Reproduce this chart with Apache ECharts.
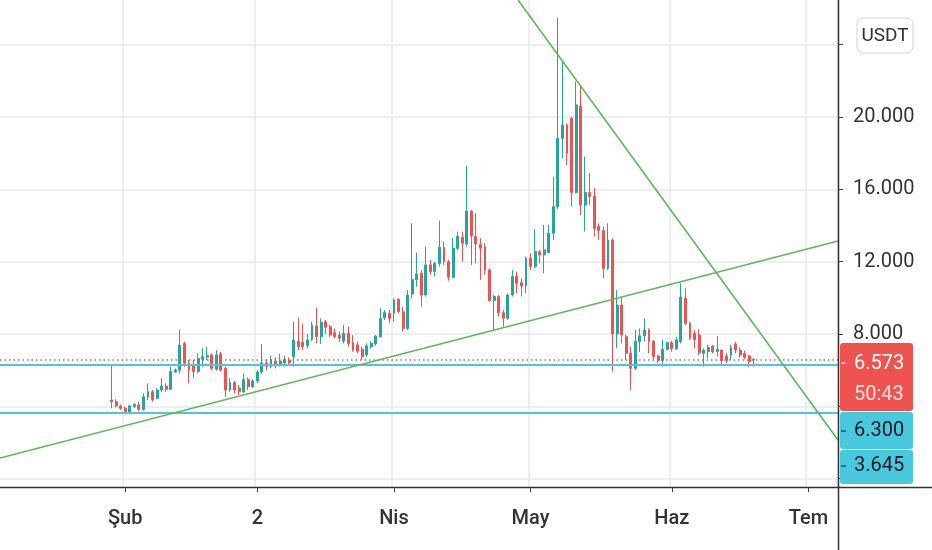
<!DOCTYPE html>
<html>
<head>
<meta charset="utf-8">
<script src="https://cdn.jsdelivr.net/npm/echarts@6/dist/echarts.min.js"></script>
<style>
html,body{margin:0;padding:0;background:#fff;}
#chart{width:932px;height:550px;}
</style>
</head>
<body>
<div id="chart"></div>
<script>
// ---- data ----
const startDate = [2021, 0, 5];      // first category day (2021-01-05)
const dayCount = 184;                // up to 2021-07-07
const firstCandleDay = 24;           // 2021-01-29
// daily candles: [open, close, low, high]
const ohlc = [
  [4.35,4.26,3.89,6.28],[4.26,4.02,3.95,4.40],[4.02,3.89,3.80,4.10],[3.89,3.65,3.57,3.98],
  [3.65,4.02,3.57,4.08],[4.00,4.10,3.90,4.15],[4.08,3.83,3.75,4.26],[3.83,4.53,3.75,4.72],
  [4.50,4.81,4.35,5.27],[4.81,4.35,4.26,4.90],[4.44,4.90,4.40,5.00],[4.90,5.12,4.81,5.55],
  [5.12,4.94,4.81,5.27],[4.94,5.92,4.90,6.19],[5.90,6.01,5.85,6.10],[6.00,7.39,5.82,8.26],
  [7.48,6.38,6.19,7.57],[6.40,6.00,5.27,6.56],[6.30,5.92,5.55,6.56],[5.92,6.65,5.82,6.93],
  [6.60,6.75,6.19,7.21],[6.72,6.80,6.56,7.30],[6.84,6.10,6.00,6.93],[6.05,6.84,5.97,7.11],
  [6.90,6.01,5.92,7.02],[6.10,4.90,4.53,6.19],[4.90,5.31,4.81,5.55],[5.31,4.90,4.72,5.40],
  [5.00,4.81,4.63,5.18],[4.81,5.49,4.72,5.82],[5.49,5.09,4.90,5.60],[5.10,5.40,5.00,5.50],
  [5.40,5.90,5.30,6.00],[5.90,6.40,5.80,7.45],[6.40,6.20,6.00,6.60],[6.20,6.60,6.10,6.80],
  [6.50,6.30,6.10,6.70],[6.30,6.50,6.20,6.90],[6.40,6.60,6.20,6.80],[6.55,6.40,6.30,6.70],
  [6.74,7.67,6.20,8.68],[7.60,7.30,7.10,8.90],[7.55,7.30,7.10,8.55],[7.35,7.67,7.20,8.00],
  [7.70,8.50,7.60,8.68],[8.44,7.85,7.48,9.45],[7.85,8.64,7.45,8.86],[8.68,8.37,8.00,8.77],
  [8.40,7.94,7.85,8.50],[8.07,7.85,7.76,8.30],[7.94,7.76,7.57,8.13],[7.60,8.04,7.48,8.50],
  [8.04,7.48,7.30,8.40],[7.50,7.11,7.02,7.94],[7.40,7.05,6.93,7.57],[7.15,6.74,6.56,7.30],
  [6.84,7.34,6.74,7.48],[7.30,7.48,7.20,7.60],[7.45,7.89,7.35,7.94],[7.85,8.86,7.80,9.42],
  [8.90,9.18,8.77,9.33],[9.15,8.86,8.60,9.33],[9.14,9.88,8.68,9.97],[9.92,9.23,9.14,9.97],
  [9.23,8.31,8.13,9.50],[8.31,10.15,8.22,10.43],[10.21,11.02,9.97,14.12],[11.00,11.32,10.62,12.50],
  [11.36,10.16,9.52,11.54],[10.16,11.82,10.07,12.83],[11.82,11.45,11.27,12.10],[11.45,11.90,11.18,12.00],
  [11.90,12.80,11.73,14.27],[12.80,12.00,11.82,13.11],[12.00,11.14,10.95,12.10],[11.14,12.74,11.08,13.30],
  [12.74,13.39,12.65,13.66],[13.35,13.02,12.00,13.66],[12.98,14.80,12.83,17.30],[14.80,13.42,11.82,14.86],
  [13.39,12.98,11.90,14.68],[12.96,12.74,10.99,13.30],[12.83,11.54,11.27,13.02],[11.54,9.85,9.79,11.63],
  [9.85,10.07,8.24,10.16],[10.07,9.18,8.96,10.16],[9.18,8.87,8.41,9.33],[8.87,10.16,8.78,10.25],
  [10.16,11.18,10.07,11.54],[11.18,10.80,10.25,11.45],[10.84,10.66,10.07,11.08],[10.66,12.19,10.25,12.28],
  [12.19,11.73,11.54,12.47],[11.73,12.56,11.63,13.80],[12.55,12.37,11.90,12.65],[12.37,12.65,11.36,14.03],
  [12.50,13.57,12.46,14.03],[13.57,15.04,13.20,16.70],[15.04,18.82,14.90,25.50],[18.82,19.56,17.72,23.06],
  [19.56,17.99,17.35,19.65],[19.93,15.82,15.04,20.02],[15.82,20.67,15.78,21.96],[20.61,15.13,14.58,21.68],
  [15.13,15.82,13.66,17.81],[15.82,15.60,15.13,16.90],[15.60,13.84,13.38,16.06],[13.94,13.72,13.20,14.12],
  [13.72,11.63,11.08,13.94],[11.63,13.20,11.54,14.12],[13.20,8.00,5.92,13.29],[8.00,9.60,7.21,10.43],
  [9.60,7.94,7.48,10.07],[7.85,6.93,6.56,7.94],[6.93,6.10,4.90,7.30],[6.10,7.58,6.00,8.22],
  [7.58,7.90,7.00,8.30],[7.90,8.22,7.60,8.86],[8.22,7.58,6.93,8.31],[7.58,6.75,6.56,7.67],
  [6.78,6.53,6.38,6.84],[6.53,7.15,6.19,7.67],[7.15,7.52,7.10,7.58],[7.52,7.20,7.02,7.63],
  [7.20,7.67,7.11,7.85],[7.58,10.03,7.48,10.80],[9.97,8.59,8.50,10.53],[8.59,7.76,7.67,8.68],
  [8.04,7.70,7.20,8.22],[7.94,6.97,6.84,8.26],[6.93,7.11,6.19,7.20],[7.02,7.26,6.65,7.39],
  [7.34,7.02,6.93,7.39],[7.02,7.15,6.75,7.89],[7.11,6.53,6.29,7.15],[6.78,6.53,6.38,6.93],
  [6.84,7.26,6.56,7.39],[7.45,7.11,6.93,7.58],[7.11,6.84,6.70,7.26],[6.93,6.71,6.60,7.08],
  [6.78,6.47,6.16,6.84],[6.60,6.573,6.20,6.65]
];
const tickDates = ['2021-02-01','2021-03-02','2021-04-01','2021-05-01','2021-06-01','2021-07-01'];
const tickLabels = ['Şub','2','Nis','May','Haz','Tem'];
const yLabelValues = [8, 12, 16, 20];
const yTickValues = [0, 4, 8, 12, 16, 20, 24];
const supportLevels = [6.300, 3.645];
const lastPrice = 6.573;
const countdown = '50:43';
const currency = 'USDT';
// trend lines: [dayIndex, price] endpoints
const trendUp = [[-0.5, 1.14], [183.5, 13.14]];
const trendDown = [[113.25, 26.47], [183.5, 2.14]];

// ---- build ----
const dates = [];
const d0 = Date.UTC(startDate[0], startDate[1], startDate[2]);
for (let k = 0; k < dayCount; k++) {
  dates.push(new Date(d0 + k * 86400000).toISOString().slice(0, 10));
}
const candleData = dates.map((d, k) => {
  const j = k - firstCandleDay;
  return (j >= 0 && j < ohlc.length) ? ohlc[j] : '-';
});
const tickIdx = {};
tickDates.forEach((d, n) => { tickIdx[dates.indexOf(d)] = tickLabels[n]; });
const isTick = (idx) => tickIdx[idx] !== undefined;

const FONT = 'Roboto, "Noto Sans", sans-serif';
const FS = 20;
const UP = '#26a69a', DOWN = '#ef5350', CYAN = '#48c9dd', GREEN = '#5cb85c';
const GRIDC = '#e6e9ee';

const chart = echarts.init(document.getElementById('chart'));
const option = {
  animation: false,
  backgroundColor: '#ffffff',
  grid: { left: 0, right: 94, top: 0, bottom: 63, containLabel: false },
  xAxis: [{
    type: 'category',
    data: dates,
    boundaryGap: true,
    axisLine: { show: false, onZero: false },
    axisTick: { show: true, interval: (i) => isTick(i), alignWithLabel: true, length: 5,
      lineStyle: { color: '#444', width: 1 } },
    axisLabel: { interval: (i) => isTick(i), formatter: (v, i) => tickIdx[i] || '',
      fontSize: FS, color: '#333', fontFamily: FONT, fontWeight: 500, margin: 22 },
    splitLine: { show: true, interval: (i) => isTick(i), lineStyle: { color: GRIDC, width: 1.5 } }
  }, {
    type: 'value', min: -0.5, max: dayCount - 0.5, show: false,
    axisLine: { onZero: false }
  }],
  yAxis: {
    type: 'value',
    position: 'right',
    min: -0.461, max: 26.47,
    axisLine: { show: false, onZero: false },
    axisTick: { show: true, customValues: yTickValues, length: 5, lineStyle: { color: '#444', width: 1 } },
    axisLabel: { customValues: yLabelValues, formatter: (v) => v.toFixed(3),
      fontSize: FS, color: '#333', fontFamily: FONT, margin: 15 },
    splitLine: { show: true, customValues: yTickValues, lineStyle: { color: GRIDC, width: 1.5 } }
  },
  series: [{
    type: 'candlestick',
    data: candleData,
    barWidth: 2.4,
    itemStyle: { color: UP, color0: DOWN, borderColor: UP, borderColor0: DOWN, borderWidth: 1 },
    markLine: {
      silent: true, symbol: 'none', label: { show: false },
      data: [
        { yAxis: supportLevels[0], lineStyle: { color: CYAN, width: 2, type: 'solid' } },
        { yAxis: supportLevels[1], lineStyle: { color: CYAN, width: 2, type: 'solid' } },
        { yAxis: lastPrice, lineStyle: { color: DOWN, width: 1.5, type: [1.5, 3] } }
      ]
    },
    z: 3
  }, {
    type: 'line', xAxisIndex: 1, data: trendUp, symbol: 'none', silent: true,
    lineStyle: { color: GREEN, width: 1.6 }, z: 5
  }, {
    type: 'line', xAxisIndex: 1, data: trendDown, symbol: 'none', silent: true,
    lineStyle: { color: GREEN, width: 1.6 }, z: 5
  }],
  graphic: [
    { type: 'line', shape: { x1: 838.5, y1: 0, x2: 838.5, y2: 550 }, style: { stroke: '#333', lineWidth: 1.5 }, z: 50 },
    { type: 'line', shape: { x1: 0, y1: 487.5, x2: 932, y2: 487.5 }, style: { stroke: '#333', lineWidth: 1.5 }, z: 50 },
    { type: 'rect', shape: { x: 857, y: 18, width: 56, height: 35, r: 6 },
      style: { fill: '#fff', stroke: '#d1d4dc', lineWidth: 1 }, z: 60 },
    { type: 'text', x: 885, y: 36, style: { text: currency, fill: '#333', font: '19px ' + FONT, align: 'center', verticalAlign: 'middle' }, z: 61 },
    { type: 'rect', shape: { x: 840, y: 343, width: 73, height: 68, r: 3 }, style: { fill: DOWN }, z: 60 },
    { type: 'line', shape: { x1: 841, y1: 363, x2: 846, y2: 363 }, style: { stroke: '#fff', lineWidth: 1 }, z: 61 },
    { type: 'text', x: 854, y: 364, style: { text: lastPrice.toFixed(3), fill: '#fff', font: FS + 'px ' + FONT, verticalAlign: 'middle' }, z: 61 },
    { type: 'text', x: 854, y: 395, style: { text: countdown, fill: '#fde3e3', font: FS + 'px ' + FONT, verticalAlign: 'middle' }, z: 61 },
    { type: 'rect', shape: { x: 840, y: 412, width: 73, height: 37, r: 3 }, style: { fill: CYAN }, z: 60 },
    { type: 'line', shape: { x1: 841, y1: 431, x2: 846, y2: 431 }, style: { stroke: '#131722', lineWidth: 1 }, z: 61 },
    { type: 'text', x: 854, y: 431, style: { text: supportLevels[0].toFixed(3), fill: '#131722', font: FS + 'px ' + FONT, verticalAlign: 'middle' }, z: 61 },
    { type: 'rect', shape: { x: 840, y: 450, width: 73, height: 34, r: 3 }, style: { fill: CYAN }, z: 60 },
    { type: 'line', shape: { x1: 841, y1: 466, x2: 846, y2: 466 }, style: { stroke: '#131722', lineWidth: 1 }, z: 61 },
    { type: 'text', x: 854, y: 466, style: { text: supportLevels[1].toFixed(3), fill: '#131722', font: FS + 'px ' + FONT, verticalAlign: 'middle' }, z: 61 }
  ]
};
chart.setOption(option);
</script>
</body>
</html>
